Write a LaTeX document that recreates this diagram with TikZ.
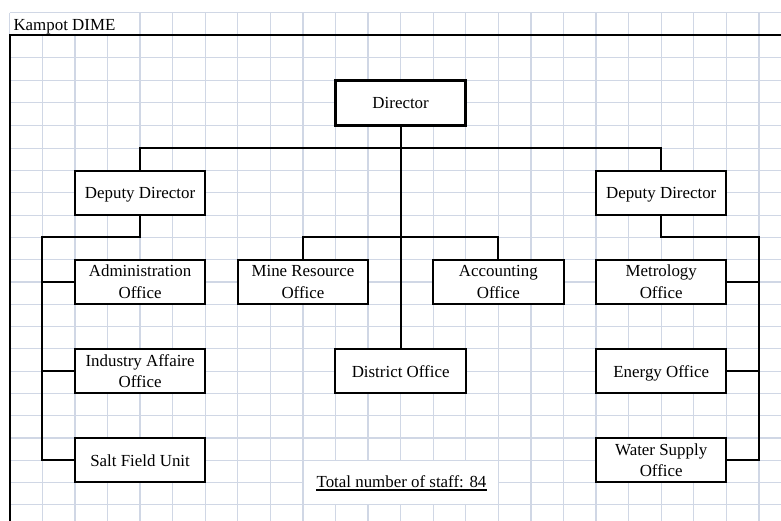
\documentclass[tikz,border=0pt]{standalone}
\usepackage{fontspec}
\setmainfont{Liberation Serif}
\definecolor{gridline}{RGB}{208,215,229}
\newcommand\orgfont{\fontsize{16.9}{21.7}\selectfont}
\begin{document}
\begin{tikzpicture}[x=1pt,y=-1pt,
  gridrule/.style={draw=gridline,line width=1.2},
  frame/.style={line width=2.2},
  orgbox/.style={draw,line width=2,fill=white,inner sep=0,align=center,
    font=\orgfont,minimum width=130.3pt,minimum height=44.5pt,
    text height=12pt,text depth=0pt},
  twoline/.style={text height=,text depth=},
  link/.style={line width=2}]
\useasboundingbox (0,0) rectangle (781,521);

% sheet grid
\foreach \k in {0,...,23}
  \draw[gridrule] ({9.8+32.57*\k},35) -- ({9.8+32.57*\k},521);
\draw[gridrule] (9.8,12.7) -- (9.8,35);
\foreach \k in {4,...,23}
  \draw[gridrule] ({9.8+32.57*\k},12.7) -- ({9.8+32.57*\k},35);
\foreach \y in {12.7,57.6,80.2,102.9,125.6,148.3,170.58,192.86,215.14,237.42,
    259.7,281.98,304.26,326.54,348.82,371.1,393.38,415.66,437.94,460.22,482.5,504.78}
  \draw[gridrule] (9.8,\y) -- (781,\y);

% merged cell holding the staff total
\fill[white] (303.6,460.8) rectangle (497.7,504.2);

% sheet frame
\draw[frame] (9.8,521) -- (9.8,35) -- (781,35);

% header and total
\node[anchor=base west,inner sep=0,font=\orgfont] (title) at (13.3,31) {Kampot DIME};
\node[anchor=base,inner sep=0,font=\orgfont] (total) at (401.5,487.8) {Total number of staff: 84};
\draw[line width=1.1] ([yshift=-2.2pt]total.base west) -- ([yshift=-2.2pt]total.base east);

% boxes
\node[orgbox,line width=2.8,minimum height=45.4pt] (dir) at (400.64,102.9) {Director};
\node[orgbox] (dd1) at (140.08,192.86) {Deputy Director};
\node[orgbox] (dd2) at (661.2,192.86) {Deputy Director};
\node[orgbox,twoline] (adm) at (140.08,281.98) {Administration\\Office};
\node[orgbox,twoline] (ind) at (140.08,371.1) {Industry Affaire\\Office};
\node[orgbox] (salt) at (140.08,460.22) {Salt Field Unit};
\node[orgbox,twoline] (mine) at (302.93,281.98) {Mine Resource\\Office};
\node[orgbox,twoline] (acc) at (498.35,281.98) {Accounting\\Office};
\node[orgbox] (dist) at (400.64,371.1) {District Office};
\node[orgbox,twoline] (met) at (661.2,281.98) {Metrology\\Office};
\node[orgbox] (ene) at (661.2,371.1) {Energy Office};
\node[orgbox,twoline] (wat) at (661.2,460.22) {Water Supply\\Office};

% junction points
\coordinate (top) at (400.64,148.3);
\coordinate (mid) at (400.64,237.42);
\coordinate (lbus) at (42.37,237.42);
\coordinate (rbus) at (758.91,237.42);

% connectors
\draw[link] (dir.south) -- (dist.north);
\draw[link] (dd1.north) |- (top) -| (dd2.north);
\draw[link] (mine.north) |- (mid) -| (acc.north);
\draw[link] (dd1.south) |- (lbus) |- (salt.west);
\draw[link] (adm.west) -- (adm.west -| lbus);
\draw[link] (ind.west) -- (ind.west -| lbus);
\draw[link] (dd2.south) |- (rbus) |- (wat.east);
\draw[link] (met.east) -- (met.east -| rbus);
\draw[link] (ene.east) -- (ene.east -| rbus);
\end{tikzpicture}
\end{document}
